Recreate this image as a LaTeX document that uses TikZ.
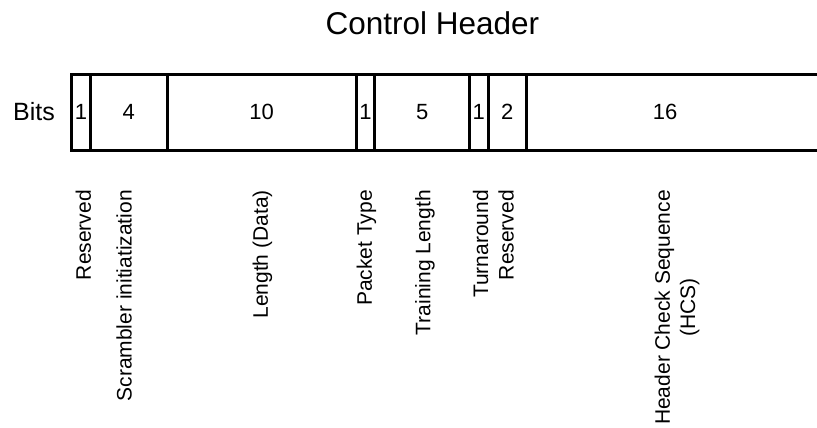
\documentclass[tikz,border=0pt]{standalone}
\usepackage{fontspec}
\setmainfont{Liberation Sans}
\begin{document}
\begin{tikzpicture}[x=1pt,y=-1pt,
  frame/.style={line width=3pt},
  num/.style={font=\fontsize{22}{26}\selectfont, inner sep=0pt},
  lbl/.style={font=\fontsize{21}{25.2}\selectfont, rotate=90, anchor=east, inner sep=0pt, align=center}]
\useasboundingbox (0,0) rectangle (817,428);
\node[font=\fontsize{31.5}{36}\selectfont, anchor=base, inner sep=0pt] (title) at (432.5,35) {Control Header};
\node[font=\fontsize{25}{30}\selectfont, inner sep=0pt] (bits) at (34,111.5) {Bits};
% frame
\coordinate (tl) at (71.5,75);
\coordinate (bl) at (71.5,150);
\coordinate (tr) at (817,75);
\coordinate (br) at (817,150);
\draw[frame] (tr) -- (tl) -- (bl) -- (br);
\foreach \x [count=\i] in {90.7,167,356.2,374.7,469.7,488,526.3}
  \draw[frame] (\x,75) coordinate (s\i top) -- (\x,150) coordinate (s\i bot);
% bit counts
\node[num] (f1) at (81.1,112) {1};
\node[num] (f2) at (128.8,112) {4};
\node[num] (f3) at (261.6,112) {10};
\node[num] (f4) at (365.5,112) {1};
\node[num] (f5) at (422.2,112) {5};
\node[num] (f6) at (478.8,112) {1};
\node[num] (f7) at (507.2,112) {2};
\node[num] (f8) at (665,112) {16};
% labels
\node[lbl] (l1) at (83.3,190) {Reserved};
\node[lbl] (l2) at (124,190) {Scrambler initiatization};
\node[lbl] (l3) at (262.5,190) {Length (Data)};
\node[lbl] (l4) at (366.5,190) {Packet Type};
\node[lbl] (l5) at (425,190) {Training Length};
\node[lbl] (l6) at (480.5,190) {Turnaround};
\node[lbl] (l7) at (506,190) {Reserved};
\node[lbl] (l8) at (677,190) {Header Check Sequence\\(HCS)};
\end{tikzpicture}
\end{document}
